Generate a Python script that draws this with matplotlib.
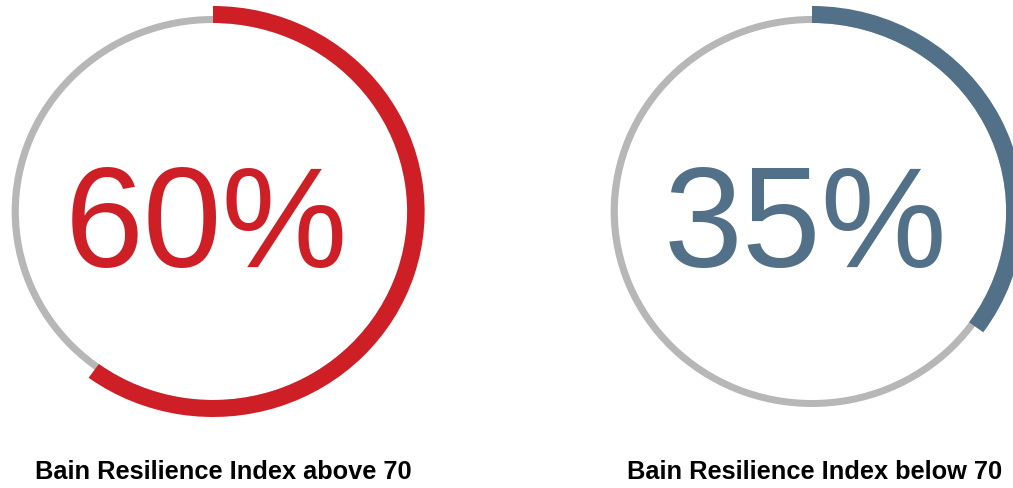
import matplotlib.pyplot as plt

# Shares shown in the two rings
shares = [60, 35]
labels = ["Bain Resilience Index above 70", "Bain Resilience Index below 70"]
colors = ["#cf1f26", "#527189"]
track_color = "#b7b7b7"

W, H = 1013, 489
sx = 1.03  # the original is slightly stretched sideways
fig = plt.figure(figsize=(W / 100, H / 100), dpi=100)
ax = fig.add_axes([0, 0, 1, 1])

centers = [(213 / sx, 276.5), (812 / sx, 276.5)]
inner_r = 188.5
text_x = [206 / sx, 805 / sx]
label_x = [223 / sx, 815 / sx]

for share, label, color, (cx, cy), tx, lx in zip(shares, labels, colors, centers, text_x, label_x):
    # grey track
    ax.pie([1], colors=[track_color], radius=inner_r + 7, center=(cx, cy),
           wedgeprops=dict(width=7, linewidth=0), startangle=90)
    # coloured arc, clockwise from 12 o'clock
    ax.pie([share, 100 - share], colors=[color, "none"], radius=inner_r + 17,
           center=(cx, cy), counterclock=False, startangle=90,
           wedgeprops=dict(width=17, linewidth=0))
    ax.text(tx, 222, f"{share}%", ha="center", va="baseline", color=color,
            fontsize=102, family="Liberation Sans")
    ax.text(lx, 10, label, ha="center", va="baseline", fontsize=18.3,
            fontweight="bold", family="Liberation Sans", color="black")

ax.set_aspect("auto")
ax.set_xlim(0, W / sx)
ax.set_ylim(0, H)
ax.axis("off")

fig.savefig("out.png", dpi=100, facecolor="white")
